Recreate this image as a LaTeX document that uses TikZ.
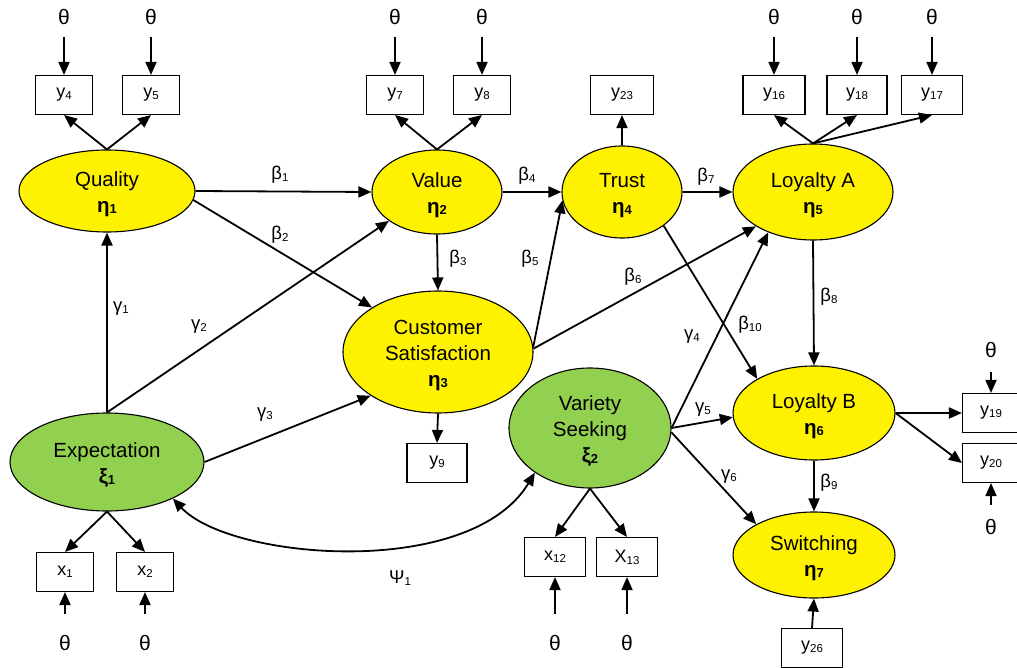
\documentclass[tikz,border=0pt]{standalone}
\usepackage{fontspec}
\setmainfont{Liberation Sans}
\usetikzlibrary{shapes.geometric,arrows.meta}
\definecolor{exgreen}{HTML}{92D050}
\newcommand\mysb[1]{\raisebox{-2pt}{\fontsize{11.5}{11.5}\selectfont #1}}
\newcommand\lvsb[1]{\raisebox{-1.5pt}{\fontsize{13}{13}\selectfont #1}}
\newcommand\toplift{\rule{0pt}{21pt}}
\begin{document}
\begin{tikzpicture}[x=1pt,y=-1pt,
  lat/.style={ellipse, draw, line width=1.1pt, fill=yellow, inner sep=0pt, align=center, font=\fontsize{20.5}{26}\selectfont},
  exo/.style={lat, fill=exgreen},
  obs/.style={draw, line width=1.1pt, minimum width=57pt, minimum height=39pt, inner sep=0pt, font=\fontsize{18}{20}\selectfont},
  th/.style={inner sep=0pt, font=\fontsize{21}{21}\selectfont},
  lbl/.style={inner sep=0pt, font=\fontsize{18.5}{20}\selectfont},
  arr/.style={-{Triangle[length=13pt,width=11pt]}, line width=1.8pt},
  darr/.style={{Triangle[length=13pt,width=11pt]}-{Triangle[length=13pt,width=11pt]}, line width=1.8pt},
  tharr/.style={arr, shorten <=12pt},
  tharrb/.style={arr, shorten <=21pt}]
\useasboundingbox (0,0) rectangle (1017,668);

% latent variables
\node[lat, minimum width=176pt, minimum height=82pt] (Q) at (107,191) {\toplift Quality\\{\bfseries η\lvsb{1}}};
\node[lat, minimum width=130pt, minimum height=84pt] (V) at (437,192) {\toplift Value\\{\bfseries η\lvsb{2}}};
\node[lat, minimum width=120pt, minimum height=92pt] (T) at (622,192) {\toplift Trust\\{\bfseries η\lvsb{4}}};
\node[lat, minimum width=160pt, minimum height=96pt] (LA) at (813,192) {\toplift Loyalty A\\{\bfseries η\lvsb{5}}};
\node[lat, minimum width=190pt, minimum height=122pt] (CS) at (438,352) {\toplift Customer\\Satisfaction\\{\bfseries η\lvsb{3}}};
\node[exo, minimum width=194pt, minimum height=98pt] (E) at (107,462) {\toplift Expectation\\{\bfseries ξ\lvsb{1}}};
\node[exo, minimum width=162pt, minimum height=120pt] (VS) at (590,428) {\toplift Variety\\Seeking\\{\bfseries ξ\lvsb{2}}};
\node[lat, minimum width=162pt, minimum height=94pt] (LB) at (814,413) {\toplift Loyalty B\\{\bfseries η\lvsb{6}}};
\node[lat, minimum width=162pt, minimum height=86pt] (SW) at (814,555) {\toplift Switching\\{\bfseries η\lvsb{7}}};

% indicators
\node[obs] (y4) at (64,95) {y\mysb{4}};
\node[obs] (y5) at (151,95) {y\mysb{5}};
\node[obs] (y7) at (395,95) {y\mysb{7}};
\node[obs] (y8) at (482,95) {y\mysb{8}};
\node[obs, minimum width=63pt] (y23) at (622,95) {y\mysb{23}};
\node[obs, minimum width=62pt] (y16) at (774,95) {y\mysb{16}};
\node[obs, minimum width=60pt] (y18) at (857,95) {y\mysb{18}};
\node[obs, minimum width=61pt] (y17) at (932,95) {y\mysb{17}};
\node[obs, minimum width=60pt] (y9) at (437,463) {y\mysb{9}};
\node[obs] (x1) at (65,572) {x\mysb{1}};
\node[obs] (x2) at (145,572) {x\mysb{2}};
\node[obs, minimum width=61pt] (x12) at (555,557) {x\mysb{12}};
\node[obs, minimum width=61pt] (x13) at (627,557) {X\mysb{13}};
\node[obs, minimum width=57pt] (y19) at (991,413) {y\mysb{19}};
\node[obs, minimum width=57pt] (y20) at (991,463) {y\mysb{20}};
\node[obs, minimum width=61pt] (y26) at (812,648) {y\mysb{26}};

% error terms
\node[th] (t4) at (64,17) {θ};
\node[th] (t5) at (151,17) {θ};
\node[th] (t7) at (395,17) {θ};
\node[th] (t8) at (482,17) {θ};
\node[th] (t16) at (774,17) {θ};
\node[th] (t18) at (857,17) {θ};
\node[th] (t17) at (932,17) {θ};
\node[th] (tx1) at (65,643) {θ};
\node[th] (tx2) at (145,643) {θ};
\node[th] (tx12) at (555,643) {θ};
\node[th] (tx13) at (627,643) {θ};
\node[th] (t19) at (991,350) {θ};
\node[th] (t20) at (991,527) {θ};

\draw[tharr] (t4.south) -- (y4.north);
\draw[tharr] (t5.south) -- (y5.north);
\draw[tharr] (t7.south) -- (y7.north);
\draw[tharr] (t8.south) -- (y8.north);
\draw[tharr] (t16.south) -- (y16.north);
\draw[tharr] (t18.south) -- (y18.north);
\draw[tharr] (t17.south) -- (y17.north);
\draw[tharrb] (tx1.north) -- (x1.south);
\draw[tharrb] (tx2.north) -- (x2.south);
\draw[tharrb] (tx12.north) -- (x12.south);
\draw[tharrb] (tx13.north) -- (x13.south);
\draw[arr, shorten <=14pt] (t19.south) -- (y19.north);
\draw[arr, shorten <=14pt] (t20.north) -- (y20.south);

% measurement arrows
\draw[arr] (Q.north) -- (y4.south);
\draw[arr] (Q.north) -- (y5.south);
\draw[arr] (V.north) -- (y7.south);
\draw[arr] (V.north) -- (y8.south);
\draw[arr] (T.north) -- (y23.south);
\draw[arr] (LA.north) -- (y16.south);
\draw[arr] (LA.north) -- (y18.south);
\draw[arr] (LA.north) -- (y17.south);
\draw[arr] (CS.south) -- (y9.north);
\draw[arr] (E.south) -- (x1.north);
\draw[arr] (E.south) -- (x2.north);
\draw[arr] (VS.south) -- (x12.north);
\draw[arr] (VS.south) -- (x13.north);
\draw[arr] (LB.east) -- (y19.west);
\draw[arr] (LB.east) -- (y20.west);
\draw[arr] (y26.north) -- (SW.south);

% structural paths
\draw[arr] (Q.east) -- (V.west);
\draw[arr] (Q.-6) -- (CS.146);
\draw[arr] (V.south) -- (CS.north);
\draw[arr] (V.east) -- (T.west);
\draw[arr] (CS.3) -- (T.188);
\draw[arr] (CS.2) -- (LA.211);
\draw[arr] (T.east) -- (LA.west);
\draw[arr] (T.321) -- (LB.149);
\draw[arr] (LA.south) -- (LB.north);
\draw[arr] (LB.south) -- (SW.north);
\draw[arr] (E.north) -- (Q.south);
\draw[arr] (E.north) -- (V.211);
\draw[arr] (E.east) -- (CS.213);
\draw[arr] (VS.east) -- (LA.222);
\draw[arr] (VS.east) -- (LB.183);
\draw[arr] (VS.-3) -- (SW.152);
\draw[darr] (E.331) .. controls (230,560) and (470,580) .. (VS.219);

% path labels
\node[lbl] (b1) at (280,175) {β\mysb{1}};
\node[lbl] (b2) at (280,235) {β\mysb{2}};
\node[lbl] (b3) at (458,259) {β\mysb{3}};
\node[lbl] (b4) at (527,176) {β\mysb{4}};
\node[lbl] (b5) at (530,259) {β\mysb{5}};
\node[lbl] (b6) at (633,277) {β\mysb{6}};
\node[lbl] (b7) at (706,177) {β\mysb{7}};
\node[lbl] (b8) at (829,297) {β\mysb{8}};
\node[lbl] (b9) at (829,483) {β\mysb{9}};
\node[lbl] (b10) at (750,325) {β\mysb{10}};
\node[lbl] (g1) at (121,309) {γ\mysb{1}};
\node[lbl] (g2) at (199,327) {γ\mysb{2}};
\node[lbl] (g3) at (265,415) {γ\mysb{3}};
\node[lbl] (g4) at (692,337) {γ\mysb{4}};
\node[lbl] (g5) at (703,410) {γ\mysb{5}};
\node[lbl] (g6) at (729,477) {γ\mysb{6}};
\node[lbl] (psi) at (400,578) {Ψ\mysb{1}};
\end{tikzpicture}
\end{document}
